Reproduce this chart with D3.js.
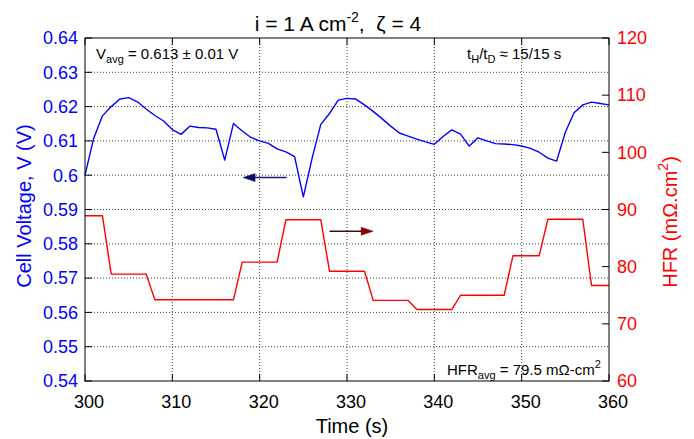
<!DOCTYPE html>
<html><head><meta charset="utf-8">
<script src="https://cdn.jsdelivr.net/npm/d3@7"></script>
<style>
body{margin:0;background:#fff;}
svg{display:block;font-family:"Liberation Sans",Arial,Helvetica,sans-serif;}
</style></head>
<body>
<svg id="c" width="694" height="439"></svg>
<script>
// ---- data ----
const timeV = [300,301,302,303,304,305,306,307,308,309,310,311,312,313,314,315,316,317,318,319,320,321,322,323,324,325,326,327,328,329,330,331,332,333,334,335,336,337,338,339,340,341,342,343,344,345,346,347,348,349,350,351,352,353,354,355,356,357,358,359,360];
const voltage = [0.6000,0.6108,0.6173,0.6200,0.6222,0.6226,0.6214,0.6193,0.6174,0.6158,0.6133,0.6119,0.6143,0.6139,0.6138,0.6134,0.6044,0.6151,0.6129,0.6110,0.6100,0.6093,0.6077,0.6068,0.6054,0.5937,0.6049,0.6148,0.6180,0.6219,0.6224,0.6222,0.6205,0.6186,0.6165,0.6143,0.6123,0.6114,0.6105,0.6097,0.6090,0.6113,0.6132,0.6120,0.6085,0.6109,0.6100,0.6092,0.6091,0.6089,0.6085,0.6078,0.6067,0.6050,0.6041,0.6125,0.6182,0.6205,0.6213,0.6209,0.6205];
const timeH = [300,302,303,307,308,317,318,322,323,327,328,332,333,337,338,342,343,348,349,352,353,357,358,360];
const hfr   = [88.9,88.9,78.7,78.7,74.2,74.2,80.8,80.8,88.2,88.2,79.2,79.2,74.1,74.1,72.5,72.5,75.0,75.0,81.9,81.9,88.3,88.3,76.7,76.7];
const xTicks = [300,310,320,330,340,350,360];
const vTicks = [0.54,0.55,0.56,0.57,0.58,0.59,0.60,0.61,0.62,0.63,0.64];
const vTickLabels = ["0.54","0.55","0.56","0.57","0.58","0.59","0.6","0.61","0.62","0.63","0.64"];
const hTicks = [60,70,80,90,100,110,120];
// annotation arrows (data units)
const arrowV = {x1:323.1, x2:318.1, y:0.5993};
const arrowH = {x1:328.0, x2:333.0, y:86.2};

// ---- layout ----
const L=85, R=609, T=38, B=381;
const svg = d3.select("#c");
const x = d3.scaleLinear().domain([300,360]).range([L,R]);
const yV = d3.scaleLinear().domain([0.54,0.64]).range([B,T]);
const yH = d3.scaleLinear().domain([60,120]).range([B,T]);
const BLUE="#0000ff", RED="#ff0000";

// grid
const g = svg.append("g");
g.selectAll("line.vg").data(xTicks.slice(1,-1)).join("line")
  .attr("x1",d=>x(d)).attr("x2",d=>x(d)).attr("y1",T).attr("y2",B)
  .attr("stroke","#444").attr("stroke-width",1).attr("stroke-dasharray","1,2");
g.selectAll("line.hg").data(vTicks.slice(1,-1)).join("line")
  .attr("y1",d=>yV(d)).attr("y2",d=>yV(d)).attr("x1",L).attr("x2",R)
  .attr("stroke","#444").attr("stroke-width",1).attr("stroke-dasharray","1,2");

// lines
svg.append("path").datum(timeH.map((t,i)=>[t,hfr[i]]))
  .attr("d", d3.line().x(d=>x(d[0])).y(d=>yH(d[1])))
  .attr("fill","none").attr("stroke",RED).attr("stroke-width",1.4).attr("stroke-linejoin","round");
svg.append("path").datum(timeV.map((t,i)=>[t,voltage[i]]))
  .attr("d", d3.line().x(d=>x(d[0])).y(d=>yV(d[1])))
  .attr("fill","none").attr("stroke",BLUE).attr("stroke-width",1.4).attr("stroke-linejoin","round");

// arrows
function arrow(x1,x2,yy,lineCol,headCol){
  const dir = Math.sign(x2-x1);
  svg.append("line").attr("x1",x1).attr("x2",x2-dir*10).attr("y1",yy).attr("y2",yy)
    .attr("stroke",lineCol).attr("stroke-width",1.5);
  svg.append("path").attr("d",`M${x2},${yy} L${x2-dir*12},${yy-4} L${x2-dir*12},${yy+4} Z`)
    .attr("fill",headCol).attr("stroke",headCol).attr("stroke-width",0.5);
}
arrow(x(arrowV.x1),x(arrowV.x2),yV(arrowV.y),"#1c1c78","#0c0c60");
arrow(x(arrowH.x1),x(arrowH.x2),yH(arrowH.y),"#3a1010","#8a0000");

// frame
svg.append("rect").attr("x",L).attr("y",T).attr("width",R-L).attr("height",B-T)
  .attr("fill","none").attr("stroke","#000").attr("stroke-width",1);

// ticks
const tk=7;
svg.selectAll("line.xt").data(xTicks).join("line")
  .attr("x1",d=>x(d)).attr("x2",d=>x(d)).attr("y1",B).attr("y2",B-tk).attr("stroke","#000");
svg.selectAll("line.xtt").data(xTicks).join("line")
  .attr("x1",d=>x(d)).attr("x2",d=>x(d)).attr("y1",T).attr("y2",T+tk).attr("stroke","#000");
svg.selectAll("line.vt").data(vTicks).join("line")
  .attr("x1",L).attr("x2",L+tk).attr("y1",d=>yV(d)).attr("y2",d=>yV(d)).attr("stroke","#000");
svg.selectAll("line.ht").data(hTicks).join("line")
  .attr("x1",R).attr("x2",R-tk).attr("y1",d=>yH(d)).attr("y2",d=>yH(d)).attr("stroke","#000");

// tick labels
svg.selectAll("text.xl").data(xTicks).join("text")
  .attr("x",d=>x(d)+4).attr("y",408).attr("text-anchor","middle")
  .attr("font-size",18).attr("fill","#000").text(d=>d);
svg.selectAll("text.vl").data(vTicks).join("text")
  .attr("x",78).attr("y",d=>yV(d)).attr("dy","0.35em").attr("text-anchor","end")
  .attr("font-size",18).attr("fill",BLUE).text((d,i)=>vTickLabels[i]);
svg.selectAll("text.hl").data(hTicks).join("text")
  .attr("x",617).attr("y",d=>yH(d)).attr("dy","0.35em").attr("text-anchor","start")
  .attr("font-size",18).attr("fill",RED).text(d=>d);

// axis titles
svg.append("text").attr("x",352).attr("y",433).attr("text-anchor","middle")
  .attr("font-size",20).attr("fill","#000").text("Time (s)");
svg.append("text").attr("transform","translate(31,206) rotate(-90)").attr("text-anchor","middle")
  .attr("font-size",20).attr("fill",BLUE).text("Cell Voltage, V (V)");
const hl = svg.append("text").attr("transform","translate(677,222) rotate(-90)").attr("text-anchor","middle")
  .attr("font-size",20).attr("fill",RED);
hl.append("tspan").text("HFR (mΩ.cm");
hl.append("tspan").attr("font-size",14).attr("dy",-9).text("2");
hl.append("tspan").attr("dy",9).text(")");

// title
const tt = svg.append("text").attr("x",338).attr("y",31).attr("text-anchor","middle")
  .attr("font-size",21).attr("fill","#000");
tt.append("tspan").text("i = 1 A cm");
tt.append("tspan").attr("font-size",14).attr("dy",-9).text("-2");
tt.append("tspan").attr("dy",9).text(",\u00A0\u00A0ζ = 4");

// annotations
const a1 = svg.append("text").attr("x",96).attr("y",59).attr("font-size",15).attr("fill","#000");
a1.append("tspan").text("V");
a1.append("tspan").attr("font-size",11).attr("dy",4).text("avg");
a1.append("tspan").attr("dy",-4).text(" = 0.613 ± 0.01 V");
const a2 = svg.append("text").attr("x",467).attr("y",59).attr("font-size",15).attr("fill","#000");
a2.append("tspan").text("t");
a2.append("tspan").attr("font-size",11).attr("dy",4).text("H");
a2.append("tspan").attr("dy",-4).text("/t");
a2.append("tspan").attr("font-size",11).attr("dy",4).text("D");
a2.append("tspan").attr("dy",-4).text(" ≈ 15/15 s");
const a3 = svg.append("text").attr("x",447).attr("y",375).attr("font-size",15).attr("fill","#000");
a3.append("tspan").text("HFR");
a3.append("tspan").attr("font-size",11).attr("dy",4).text("avg");
a3.append("tspan").attr("dy",-4).text(" = 79.5 mΩ-cm");
a3.append("tspan").attr("font-size",11).attr("dy",-7).text("2");
</script>
</body></html>
